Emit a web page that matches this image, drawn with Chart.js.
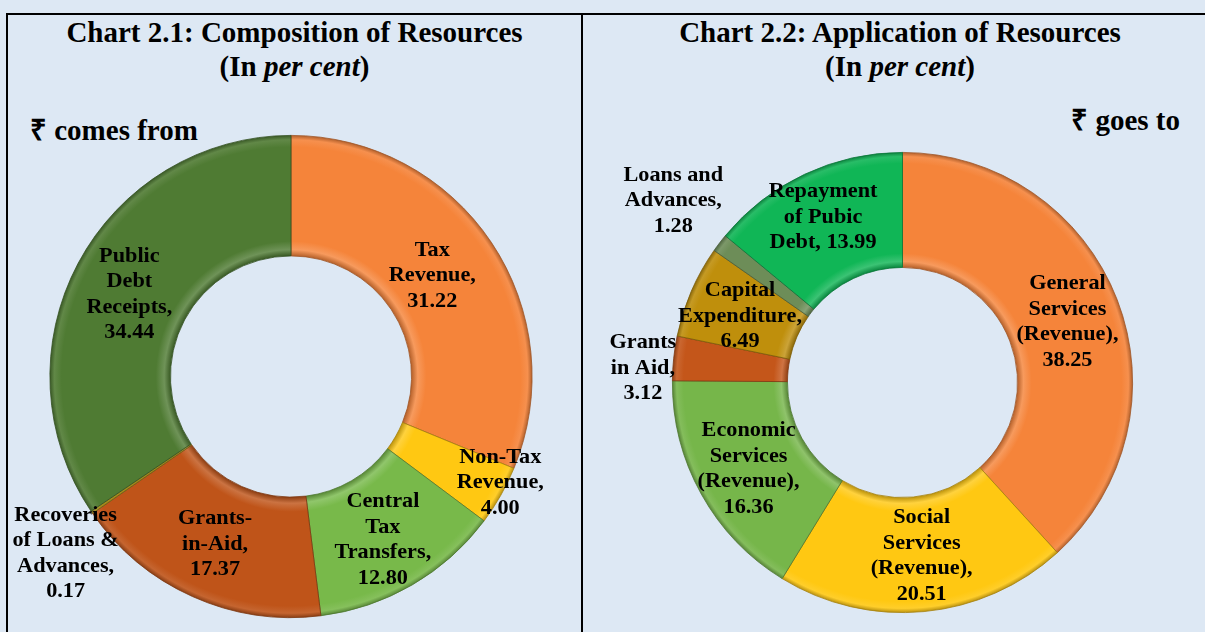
<!DOCTYPE html>
<html>
<head>
<meta charset="utf-8">
<script src="https://cdn.jsdelivr.net/npm/chart.js@4.4.1/dist/chart.umd.min.js"></script>
<style>
  html, body { margin: 0; padding: 0; background: #dde8f4; }
  body { width: 1205px; height: 632px; position: relative; overflow: hidden;
         font-family: "Liberation Serif", "Times New Roman", serif; }
  .frame { position: absolute; left: 6px; top: 13px; width: 1300px; height: 700px;
           border: 2px solid #000; box-sizing: border-box; }
  .divider { position: absolute; left: 581px; top: 13px; width: 2px; height: 640px; background: #000; }
  .title { position: absolute; text-align: center; font-weight: bold; font-size: 29px;
           line-height: 34px; color: #000; white-space: nowrap; }
  .note { position: absolute; font-weight: bold; font-size: 29px; color: #000; white-space: nowrap; }
  canvas { position: absolute; top: 0; }
</style>
</head>
<body>
<div class="frame"></div>
<div class="divider"></div>
<div class="title" style="left:8px; width:573px; top:15px;">Chart 2.1: Composition of Resources<br>(In <i>per cent</i>)</div>
<div class="title" style="left:589px; width:622px; top:15px;">Chart 2.2: Application of Resources<br>(In <i>per cent</i>)</div>
<div class="note" style="left:30px; top:109px;">₹ comes from</div>
<div class="note" style="right:25px; top:99px;">₹ goes to</div>
<canvas id="resources-chart" style="left:0px;" width="581" height="632"></canvas>
<canvas id="application-chart" style="left:582px;" width="623" height="632"></canvas>
<script>
// Chart 2.1 : d'où vient la roupie
var sourceLabels = [
  ["Tax", "Revenue,", "31.22"],
  ["Non-Tax", "Revenue,", "4.00"],
  ["Central", "Tax", "Transfers,", "12.80"],
  ["Grants-", "in-Aid,", "17.37"],
  ["Recoveries", "of Loans &", "Advances,", "0.17"],
  ["Public", "Debt", "Receipts,", "34.44"]
];
var sourceValues = [31.22, 4.00, 12.80, 17.37, 0.17, 34.44];
var sourceColors = ["#f5843a", "#ffc812", "#78b94a", "#bf5419", "#a48b1c", "#4f7b33"];
// décalage des étiquettes par rapport au centre du secteur
var sourceShift = [[-9, 0], [52, 17], [1, 7], [-2, 3], [-76, 75], [-2, 3]];

// Chart 2.2 : où va la roupie
var useLabels = [
  ["General", "Services", "(Revenue),", "38.25"],
  ["Social", "Services", "(Revenue),", "20.51"],
  ["Economic", "Services", "(Revenue),", "16.36"],
  ["Grants", "in Aid,", "3.12"],
  ["Capital", "Expenditure,", "6.49"],
  ["Loans and", "Advances,", "1.28"],
  ["Repayment", "of Pubic", "Debt, 13.99"]
];
var useValues = [38.25, 20.51, 16.36, 3.12, 6.49, 1.28, 13.99];
var useColors = ["#f5843a", "#ffc812", "#76b64a", "#c4561a", "#bf8f0c", "#6d8d58", "#10b656"];
var useShift = [[4, 2], [3, 2], [-3, 3], [-88, 4], [-4, 2], [-92, -77], [-6, -9]];

// petite fonction pour éclaircir / assombrir une couleur
var shade = function (hex, f) {
  var n = parseInt(hex.slice(1), 16);
  var r = (n >> 16) & 255, g = (n >> 8) & 255, b = n & 255;
  var mix = function (c) {
    return Math.round(f < 0 ? c * (1 + f) : c + (255 - c) * f);
  };
  return "rgb(" + mix(r) + "," + mix(g) + "," + mix(b) + ")";
};

// dégradé radial pour imiter le relief des secteurs
var bevelFill = function (colors) {
  return function (ctx) {
    var chart = ctx.chart;
    var area = chart.chartArea;
    var base = colors[ctx.dataIndex];
    if (!area) return base;
    var cx = (area.left + area.right) / 2;
    var cy = (area.top + area.bottom) / 2;
    var outer = Math.min(area.width, area.height) / 2;
    var inner = outer * 0.5;
    var g = chart.ctx.createRadialGradient(cx, cy, inner, cx, cy, outer);
    g.addColorStop(0, shade(base, -0.25));
    g.addColorStop(0.05, shade(base, 0.18));
    g.addColorStop(0.12, base);
    g.addColorStop(0.9, base);
    g.addColorStop(0.96, shade(base, 0.1));
    g.addColorStop(1, shade(base, -0.3));
    return g;
  };
};

// étiquettes multi-lignes posées au milieu de chaque secteur
var sliceLabels = {
  id: "sliceLabels",
  afterDatasetsDraw: function (chart, args, opts) {
    var ctx = chart.ctx;
    var arcs = chart.getDatasetMeta(0).data;
    ctx.save();
    ctx.fillStyle = "#000";
    ctx.font = "bold 21px 'Liberation Serif', 'Times New Roman', serif";
    ctx.textAlign = "center";
    ctx.textBaseline = "middle";
    arcs.forEach(function (arc, i) {
      var mid = (arc.startAngle + arc.endAngle) / 2;
      var r = (arc.innerRadius + arc.outerRadius) / 2;
      var x = arc.x + Math.cos(mid) * r + opts.shift[i][0];
      var y = arc.y + Math.sin(mid) * r + opts.shift[i][1];
      var lines = opts.labels[i];
      var lh = 25.5;
      lines.forEach(function (line, k) {
        ctx.save();
        ctx.translate(x, y + (k - (lines.length - 1) / 2) * lh);
        ctx.scale(1.06, 1);
        ctx.fillText(line, 0, 0);
        ctx.restore();
      });
    });
    ctx.restore();
  }
};

var makeDonut = function (id, values, colors, labels, shift, padding) {
  return new Chart(document.getElementById(id), {
    type: "doughnut",
    data: {
      labels: labels.map(function (l) { return l.join(" "); }),
      datasets: [{
        data: values,
        backgroundColor: bevelFill(colors),
        borderColor: colors.map(function (c) { return shade(c, -0.35); }),
        borderWidth: 0.8,
        hoverOffset: 0,
        offset: 0
      }]
    },
    options: {
      responsive: false,
      animation: false,
      cutout: "50%",
      layout: { padding: padding },
      plugins: {
        legend: { display: false },
        tooltip: { enabled: false },
        sliceLabels: { labels: labels, shift: shift }
      }
    },
    plugins: [sliceLabels]
  });
};

makeDonut("resources-chart", sourceValues, sourceColors, sourceLabels, sourceShift,
  { left: 49, right: 48, top: 135, bottom: 14 });
makeDonut("application-chart", useValues, useColors, useLabels, useShift,
  { left: 90, right: 72, top: 152, bottom: 19 });
</script>
</body>
</html>
